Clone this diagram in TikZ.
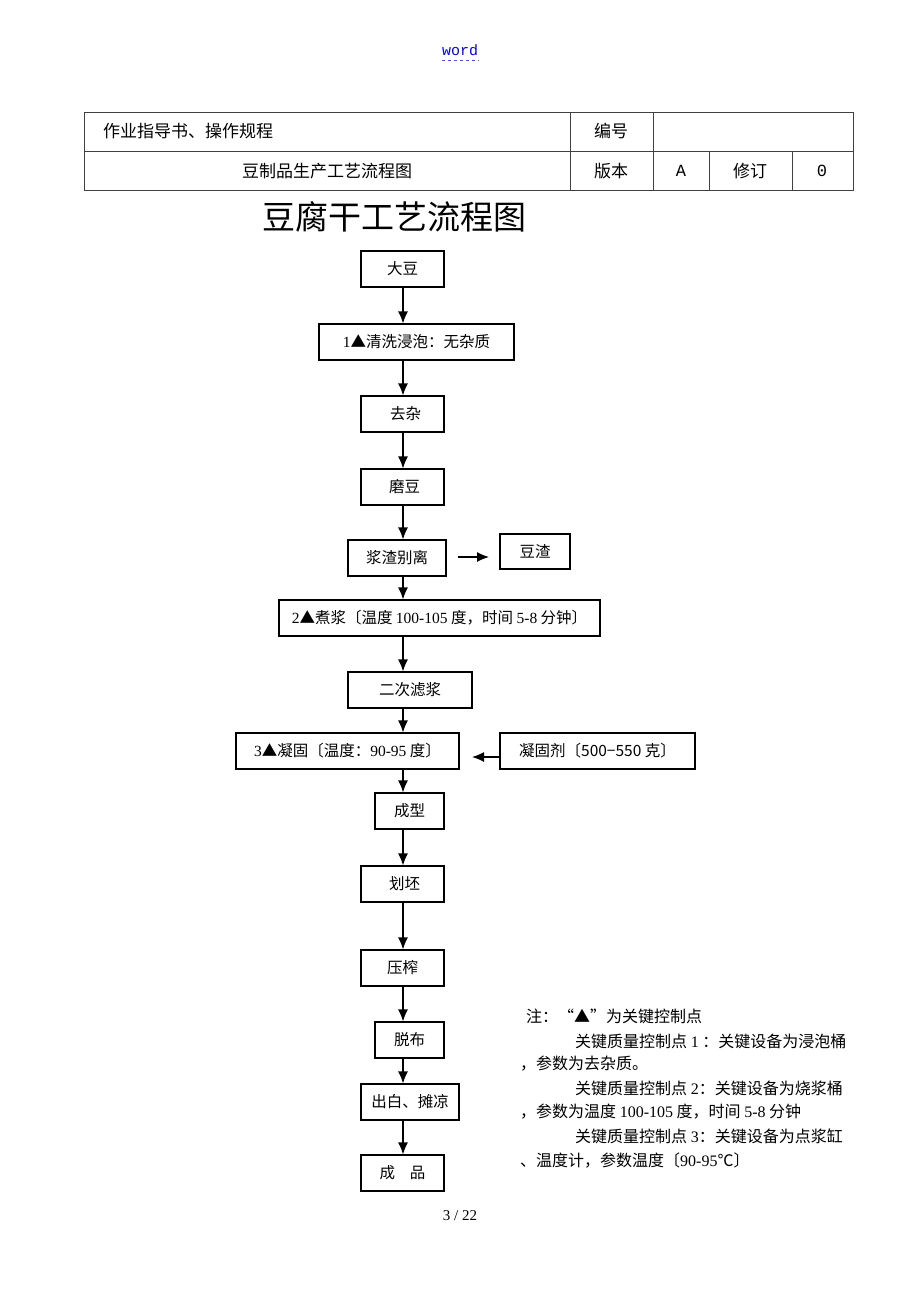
\documentclass[tikz,border=0pt]{standalone}
\usepackage{fontspec}
\setmainfont{Liberation Serif}
\newfontfamily\cjk{Noto Sans CJK SC}
\newfontfamily\wordfont{Liberation Mono}
\usetikzlibrary{arrows.meta}
\begin{document}
\begin{tikzpicture}[x=1pt,y=-1pt,
  box/.style={draw, line width=1.2pt, inner sep=0pt, minimum height=36pt,
    font=\fontsize{15.5}{18}\selectfont\cjk},
  arr/.style={line width=1.2pt, -{Latex[length=12pt,width=10pt]}},
  tline/.style={line width=0.9pt, draw=black!75},
  ttext/.style={font=\fontsize{17}{20}\selectfont\cjk, inner sep=0pt},
  note/.style={font=\fontsize{16}{18}\selectfont\cjk, anchor=west, inner sep=0pt}]
\useasboundingbox (0,0) rectangle (920,1302);
\fill[white] (0,0) rectangle (920,1302);

% header
\node[font=\fontsize{15}{18}\selectfont\wordfont, text=blue, inner sep=0pt] (word) at (460,50) {word};
\draw[blue!70, dashed, line width=1pt] (word.south west |- 0,60) -- (word.south east |- 0,60);

% table
\draw[tline] (84,112) rectangle (853,190);
\draw[tline] (84,151) -- (853,151);
\draw[tline] (570,112) -- (570,190);
\draw[tline] (653,112) -- (653,190);
\draw[tline] (709,151) -- (709,190);
\draw[tline] (792,151) -- (792,190);
\node[ttext, anchor=west] (t1) at (103,131) {作业指导书、操作规程};
\node[ttext] (t2) at (327,171) {豆制品生产工艺流程图};
\node[ttext] (t3) at (611,131) {编号};
\node[ttext] (t4) at (611,171) {版本};
\node[ttext, font=\fontsize{17}{20}\selectfont\wordfont] (t5) at (681,171) {A};
\node[ttext] (t6) at (750,171) {修订};
\node[ttext, font=\fontsize{17}{20}\selectfont\wordfont] (t7) at (822,171) {0};

% title
\node[font=\fontsize{33}{38}\selectfont\cjk, inner sep=0pt] (title) at (394,217) {豆腐干工艺流程图};

% flow boxes
\coordinate (spine) at (403,0);
\node[box, minimum width=83pt] (dadou) at (402.5,269) {大豆};
\node[box, minimum width=195pt] (qx) at (416.5,342) {{\rmfamily 1}▲清洗浸泡：无杂质};
\node[box, minimum width=83pt] (quza) at (402.5,414) {\hspace{6pt}去杂};
\node[box, minimum width=83pt] (modou) at (402.5,487) {\hspace{4pt}磨豆};
\node[box, minimum width=98pt] (jz) at (397,558) {浆渣别离\hspace{8pt}};
\node[box, minimum width=70pt, minimum height=35pt] (dz) at (535,551.5) {豆渣\hspace{10pt}};
\node[box, minimum width=321pt] (zj) at (439.5,618) {{\rmfamily 2}▲煮浆〔温度 {\rmfamily 100-105} 度，时间 {\rmfamily 5-8} 分钟〕};
\node[box, minimum width=124pt] (ec) at (410,690) {二次滤浆\hspace{20pt}};
\node[box, minimum width=223pt] (ng) at (347.5,751) {{\rmfamily 3}▲凝固〔温度：{\rmfamily 90-95} 度〕};
\node[box, minimum width=195pt] (ngj) at (597.5,751) {凝固剂〔500−550 克〕};
\node[box, minimum width=69pt] (cx) at (409.5,811) {成型\hspace{3pt}};
\node[box, minimum width=83pt] (hp) at (402.5,884) {\hspace{4pt}划坯};
\node[box, minimum width=83pt] (yz) at (402.5,968) {压榨\hspace{4pt}};
\node[box, minimum width=69pt] (tb) at (409.5,1040) {脱布\hspace{4pt}};
\node[box, minimum width=98pt] (cb) at (410,1102) {出白、摊凉};
\node[box, minimum width=83pt] (cp) at (402.5,1173) {成\hspace{15pt}品};

% vertical arrows
\foreach \a/\b in {dadou/qx, qx/quza, quza/modou, modou/jz, jz/zj, zj/ec, ec/ng, ng/cx, cx/hp, hp/yz, yz/tb, tb/cb, cb/cp}
  \draw[arr] (\a.south -| spine) -- (\b.north -| spine);

% side arrows
\coordinate (s1) at (458,557);
\coordinate (s2) at (489,557);
\draw[arr] (s1) -- (s2);
\coordinate (s3) at (472,757);
\draw[arr] (ngj.west |- s3) -- (s3);

% notes
\node[note] (n1) at (526,1016) {注：“▲”为关键控制点};
\node[note] (n2) at (575,1041) {关键质量控制点 {\rmfamily 1} ：关键设备为浸泡桶};
\node[note] (n3) at (520,1064) {，参数为去杂质。};
\node[note] (n4) at (575,1088) {关键质量控制点 {\rmfamily 2}：关键设备为烧浆桶};
\node[note] (n5) at (520,1112) {，参数为温度 {\rmfamily 100-105} 度，时间 {\rmfamily 5-8} 分钟};
\node[note] (n6) at (575,1136) {关键质量控制点 {\rmfamily 3}：关键设备为点浆缸};
\node[note] (n7) at (520,1160) {、温度计，参数温度〔{\rmfamily 90-95}℃〕};

% page number
\node[font=\fontsize{15}{18}\selectfont, inner sep=0pt] (page) at (460,1216) {3 / 22};
\end{tikzpicture}
\end{document}
